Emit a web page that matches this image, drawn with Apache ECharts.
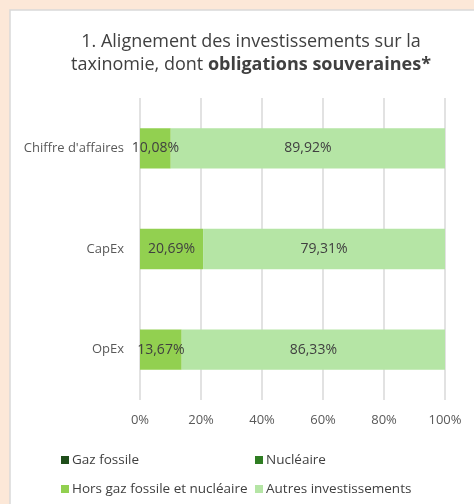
<!DOCTYPE html>
<html><head><meta charset="utf-8">
<script src="https://cdn.jsdelivr.net/npm/echarts@6/dist/echarts.min.js"></script>
<style>html,body{margin:0;padding:0;background:#fce8d8;}#c{width:474px;height:504px;}</style>
</head><body><div id="c"></div>
<script>
const categories = ["Chiffre d'affaires", "CapEx", "OpEx"];
const gazFossile = [0, 0, 0];
const nucleaire = [0, 0, 0];
const horsGazNucleaire = [10.08, 20.69, 13.67];
const autresInvestissements = [89.92, 79.31, 86.33];
const xTicks = [0, 20, 40, 60, 80, 100];
const seriesNames = ["Gaz fossile", "Nucléaire", "Hors gaz fossile et nucléaire", "Autres investissements"];
const colors = ["#1f4e1a", "#2f7d22", "#92d050", "#b5e5a5"];

const FONT = "Open Sans";
const chart = echarts.init(document.getElementById('c'));
const fmt = p => p.value ? p.value.toFixed(2).replace('.', ',') + '%' : '';
function mk(name, data, i) {
  return {
    name: name, type: 'bar', stack: 't', data: data, barWidth: '40%',
    itemStyle: { color: colors[i] },
    label: { show: true, position: 'inside', formatter: fmt, color: '#404040', fontFamily: FONT, fontSize: 14 }
  };
}
const legendPos = [[56, 448], [250, 448], [56, 477], [250, 477]];
chart.setOption({
  backgroundColor: '#fce8d8',
  animation: false,
  graphic: [{ type: 'rect', z: -10, shape: { x: 10, y: 10, width: 480, height: 510 },
    style: { fill: '#ffffff', stroke: '#d9d9d9', lineWidth: 1.5 } }],
  title: {
    text: '1. Alignement des investissements sur la\ntaxinomie, dont {b|obligations souveraines*}',
    left: 246, top: 25, textAlign: 'center',
    textStyle: { fontFamily: FONT, fontSize: 18, fontWeight: 'normal', color: '#404040', lineHeight: 23,
      rich: { b: { fontFamily: FONT, fontSize: 18, fontWeight: 'bold', color: '#404040' } } }
  },
  legend: seriesNames.map((n, i) => ({
    data: [n], left: legendPos[i][0], top: legendPos[i][1], itemWidth: 8, itemHeight: 8, itemGap: 0,
    icon: 'rect', textStyle: { fontFamily: FONT, fontSize: 13.5, color: '#404040', padding: [0, 0, 0, -2] }
  })),
  grid: { left: 140, right: 29, top: 98, bottom: 104 },
  xAxis: {
    type: 'value', min: 0, max: 100, interval: 20,
    axisLabel: { formatter: v => xTicks.includes(v) ? v + '%' : '', fontFamily: FONT, fontSize: 13, color: '#595959', margin: 14 },
    splitLine: { lineStyle: { color: '#d9d9d9', width: 1.5 } },
    axisLine: { show: false }, axisTick: { show: false }
  },
  yAxis: {
    type: 'category', data: categories, inverse: true,
    axisLine: { show: false }, axisTick: { show: false },
    axisLabel: { fontFamily: FONT, fontSize: 13, color: '#595959', margin: 16 }
  },
  series: [mk(seriesNames[0], gazFossile, 0), mk(seriesNames[1], nucleaire, 1),
           mk(seriesNames[2], horsGazNucleaire, 2), mk(seriesNames[3], autresInvestissements, 3)]
});
</script></body></html>
